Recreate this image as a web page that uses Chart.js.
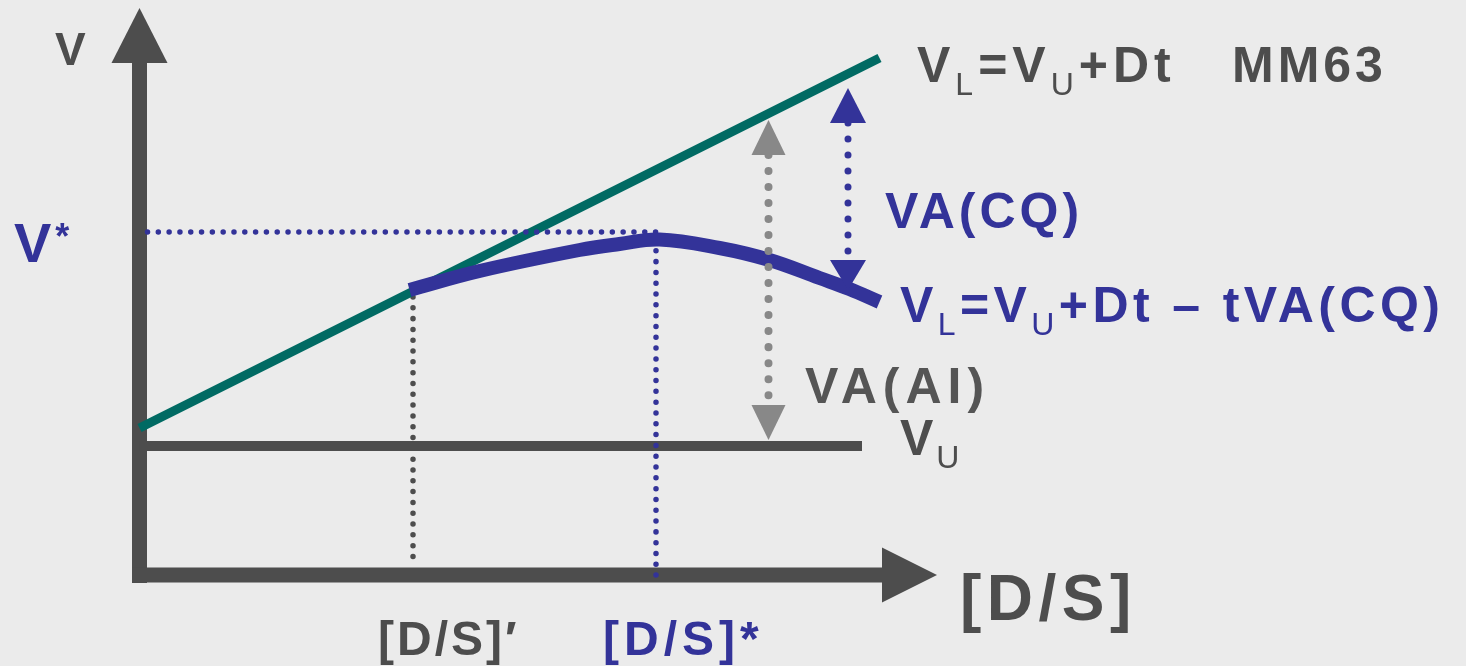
<!DOCTYPE html>
<html><head><meta charset="utf-8">
<script src="https://cdn.jsdelivr.net/npm/chart.js@4/dist/chart.umd.min.js"></script>
<style>html,body{margin:0;padding:0;background:#ebebeb;overflow:hidden}#wrap{width:1466px;height:666px}</style>
</head><body><div id="wrap"><canvas id="c" width="1466" height="666"></canvas></div>
<script>
// ---- data (conceptual units: x = [D/S], y = V) ----
const xAxisLine = [-0.075, 7.425];   // x-axis shaft
const xAxisTip = 7.975;
const yAxisLine = [-0.08, 5.12];     // y-axis shaft
const yAxisTip = 5.67;
const vUpper = 1.29;                 // V_U
const vuLineX = [0, 7.225];
const mm63X = [0, 7.4];              // V_L = V_U + Dt
const mm63Y = [1.47, 5.17];
const cqX = [2.7, 3.4, 4.4, 4.8, 5.2, 5.8, 6.3, 6.8, 7.1, 7.4];      // V_L = V_U + Dt - tVA(CQ)
const cqY = [2.85, 3.04, 3.25, 3.31, 3.355, 3.27, 3.15, 2.97, 2.86, 2.73];
const vStar = 3.43;
const vStarX = [0.08, 5.165];
const dsStar = 5.165;
const dsStarY = [3.35, -0.03];
const dsPrime = 2.735;
const dsPrimeY = [2.78, 0.08];
const vaAiX = 6.29;  const vaAiTips = [1.35, 4.55];  const vaAiShaft = [1.70, 4.20];
const vaCqX = 7.085; const vaCqTips = [2.85, 4.87];  const vaCqShaft = [3.15, 4.52];
const labelV = 'V', labelVStar = ['V', '*'];
const labelMM63 = 'MM63', labelVACQ = 'VA(CQ)', labelVAAI = 'VA(AI)';
const labelDS = '[D/S]', labelDSPrime = '[D/S]′', labelDSStar = '[D/S]*';

const DARK = '#4d4d4d', GREEN = '#006a63', BLUE = '#333399', LGRAY = '#888888', MGRAY = '#555555';

function pts(xs, ys) { return xs.map((x, i) => ({x, y: ys[i]})); }
function line(data, color, width, order, extra) {
  return Object.assign({data, borderColor: color, borderWidth: width, showLine: true, pointRadius: 0,
    borderCapStyle: 'butt', fill: false, tension: 0, order}, extra || {});
}
const dotted = (gap) => ({borderDash: [0.01, gap], borderCapStyle: 'round'});

const datasets = [
  line(pts(xAxisLine, [0, 0]), DARK, 15, 10),
  line(pts([0, 0], yAxisLine), DARK, 15, 10),
  line(pts([dsPrime, dsPrime], dsPrimeY), DARK, 5.5, 9, dotted(10.8)),
  line(pts(vuLineX, [vUpper, vUpper]), DARK, 10, 8),
  line(pts(mm63X, mm63Y), GREEN, 9, 7),
  line(pts(vStarX, [vStar, vStar]), BLUE, 5.5, 6, dotted(10.8)),
  line(pts([dsStar, dsStar], dsStarY), BLUE, 5.5, 6, dotted(10.8)),
  line(pts(cqX, cqY), BLUE, 14, 5, {tension: 0.4}),
  line(pts([vaAiX, vaAiX], [vaAiShaft[1], vaAiShaft[0]]), LGRAY, 8, 4, dotted(16)),
  line(pts([vaCqX, vaCqX], [vaCqShaft[1], vaCqShaft[0]]), BLUE, 7, 4, dotted(16)),
];

const heads = [
  {x: xAxisTip, y: 0, dir: 'right', len: 55, half: 27.5, color: DARK},
  {x: 0, y: yAxisTip, dir: 'up', len: 55, half: 28, color: DARK},
  {x: vaAiX, y: vaAiTips[1], dir: 'up', len: 35, half: 17, color: LGRAY},
  {x: vaAiX, y: vaAiTips[0], dir: 'down', len: 35, half: 17, color: LGRAY},
  {x: vaCqX, y: vaCqTips[1], dir: 'up', len: 35, half: 18, color: BLUE},
  {x: vaCqX, y: vaCqTips[0], dir: 'down', len: 30, half: 18, color: BLUE},
];

const F = '"Liberation Sans", Arial, sans-serif';
const SUB = {s: 32, w: 'normal', dy: 13};
const labels = [
  {x: -0.845, y: 5.10, color: DARK, ls: 3, runs: [{t: labelV, s: 46}]},
  {x: -1.255, y: 3.13, color: BLUE, ls: 3, runs: [{t: labelVStar[0], s: 56}, {t: labelVStar[1], s: 36, dy: -13, dx: 1}]},
  {x: 7.775, y: 4.93, color: DARK, ls: 5, runs: [{t:'V',s:50},Object.assign({t:'L'},SUB),{t:'=V',s:50},Object.assign({t:'U'},SUB),{t:'+Dt',s:50}]},
  {x: 10.925, y: 4.93, color: DARK, ls: 4, runs: [{t: labelMM63, s: 50}]},
  {x: 7.455, y: 3.47, color: BLUE, ls: 4, runs: [{t: labelVACQ, s: 50}]},
  {x: 7.605, y: 2.53, color: BLUE, ls: 4.4, runs: [{t:'V',s:50},Object.assign({t:'L'},SUB),{t:'=V',s:50},Object.assign({t:'U'},SUB),{t:'+Dt – tVA(CQ)',s:50}]},
  {x: 6.655, y: 1.72, color: MGRAY, ls: 6, runs: [{t: labelVAAI, s: 50}]},
  {x: 7.605, y: 1.20, color: DARK, ls: 3, runs: [{t:'V',s:50},Object.assign({t:'U'},SUB)]},
  {x: 8.205, y: -0.45, color: DARK, ls: 5.5, runs: [{t: labelDS, s: 64}]},
  {x: 2.385, y: -0.80, color: DARK, ls: 3, runs: [{t: labelDSPrime, s: 48}]},
  {x: 4.635, y: -0.80, color: BLUE, ls: 5, runs: [{t: labelDSStar, s: 48}]},
];

const decor = {
  id: 'decor',
  afterDatasetsDraw(chart) {
    const ctx = chart.ctx, sx = chart.scales.x, sy = chart.scales.y;
    ctx.save();
    heads.forEach(h => {
      const px = sx.getPixelForValue(h.x), py = sy.getPixelForValue(h.y);
      ctx.fillStyle = h.color;
      ctx.beginPath();
      if (h.dir === 'up') { ctx.moveTo(px, py); ctx.lineTo(px - h.half, py + h.len); ctx.lineTo(px + h.half, py + h.len); }
      else if (h.dir === 'down') { ctx.moveTo(px, py); ctx.lineTo(px - h.half, py - h.len); ctx.lineTo(px + h.half, py - h.len); }
      else { ctx.moveTo(px, py); ctx.lineTo(px - h.len, py - h.half); ctx.lineTo(px - h.len, py + h.half); }
      ctx.closePath(); ctx.fill();
    });
    ctx.textBaseline = 'alphabetic'; ctx.textAlign = 'left';
    labels.forEach(l => {
      let px = sx.getPixelForValue(l.x); const py = sy.getPixelForValue(l.y);
      ctx.fillStyle = l.color;
      l.runs.forEach(r => {
        ctx.font = (r.w || 'bold') + ' ' + r.s + 'px ' + F;
        try { ctx.letterSpacing = l.ls + 'px'; } catch (e) {}
        px += (r.dx || 0);
        ctx.fillText(r.t, px, py + (r.dy || 0));
        px += ctx.measureText(r.t).width;
      });
    });
    ctx.restore();
  }
};

new Chart(document.getElementById('c'), {
  type: 'scatter',
  data: {datasets},
  options: {
    responsive: false, animation: false, events: [],
    layout: {padding: 0},
    plugins: {legend: {display: false}, tooltip: {enabled: false}, title: {display: false}},
    scales: {
      x: {type: 'linear', min: -1.395, max: 13.265, display: false},
      y: {type: 'linear', min: -0.91, max: 5.75, display: false}
    }
  },
  plugins: [decor]
});
</script></body></html>
